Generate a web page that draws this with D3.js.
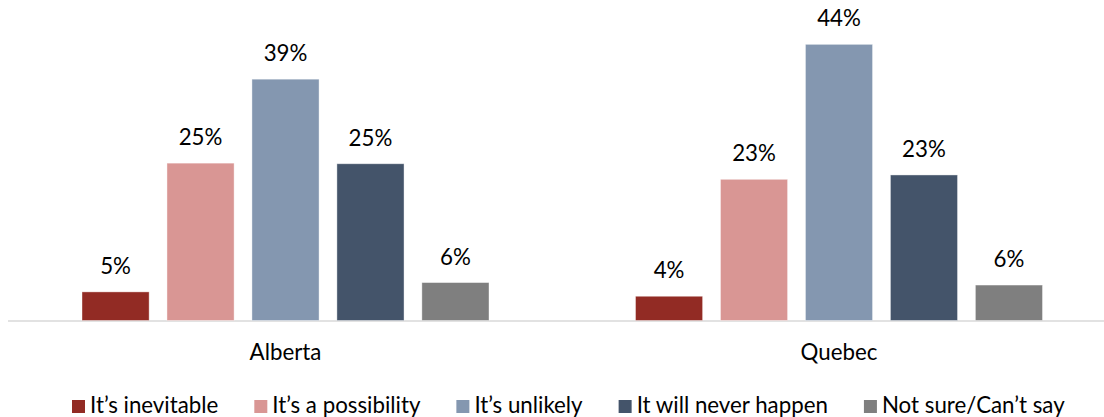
<!DOCTYPE html>
<html>
<head>
<meta charset="utf-8">
<script src="https://cdn.jsdelivr.net/npm/d3@7"></script>
<style>
  body { margin: 0; background: #fff; }
  text { font-family: Lato, "Open Sans", sans-serif; fill: #000; }
</style>
</head>
<body>
<div id="chart"></div>
<script>
// data
const regions = ["Alberta", "Quebec"];
const answers = ["It\u2019s inevitable", "It\u2019s a possibility", "It\u2019s unlikely", "It will never happen", "Not sure/Can\u2019t say"];
const colors = ["#922b24", "#d99694", "#8497b0", "#44546a", "#7f7f7f"];
const alberta = [4.6, 25.3, 38.8, 25.2, 6.1];
const quebec = [3.9, 22.7, 44.4, 23.4, 5.7];

const width = 1104, height = 417;
const baseY = 320.5;
const fontSize = "22.3px";

let svg = d3.select("#chart")
    .append("svg")
    .attr("width", width)
    .attr("height", height);

// scales
let x0 = d3.scaleBand()
    .domain(regions)
    .range([8, 1115])
    .padding(0);

let x1 = d3.scaleBand()
    .domain(answers)
    .range([74, 481])
    .paddingInner(0.21)
    .paddingOuter(0);

let y = d3.scaleLinear()
    .domain([0, 50])
    .range([baseY, 9.5]);

let rows = regions.map((r, i) => ({
    region: r,
    values: answers.map((a, j) => ({ answer: a, value: [alberta, quebec][i][j], color: colors[j] }))
}));

// baseline
svg.append("line")
    .attr("x1", 8)
    .attr("x2", width)
    .attr("y1", baseY + 0.5)
    .attr("y2", baseY + 0.5)
    .attr("stroke", "#d9d9d9")
    .attr("stroke-width", 1.5);

let groups = svg.selectAll("g.group")
    .data(rows)
    .enter()
    .append("g")
    .attr("class", "group")
    .attr("transform", d => "translate(" + x0(d.region) + ",0)");

groups.selectAll("rect")
    .data(d => d.values)
    .enter()
    .append("rect")
    .attr("x", d => x1(d.answer))
    .attr("width", x1.bandwidth())
    .attr("y", d => y(d.value))
    .attr("height", d => baseY - y(d.value))
    .attr("fill", d => d.color)
    .attr("stroke", "rgba(255,255,255,0.5)")
    .attr("stroke-width", 0.8);

groups.selectAll("text.val")
    .data(d => d.values)
    .enter()
    .append("text")
    .attr("class", "val")
    .attr("x", d => x1(d.answer) + x1.bandwidth() / 2)
    .attr("y", d => y(d.value) - 18)
    .attr("text-anchor", "middle")
    .style("font-size", fontSize)
    .text(d => d3.format(".0f")(d.value) + "%");

// category labels
groups.append("text")
    .attr("x", x1.range()[0] + (x1.range()[1] - x1.range()[0]) / 2)
    .attr("y", 360)
    .attr("text-anchor", "middle")
    .style("font-size", fontSize)
    .text(d => d.region);

// legend
let legend = svg.append("g").attr("class", "legend");
let lx = 72;
answers.forEach((a, i) => {
    let item = legend.append("g").attr("transform", "translate(" + lx + ",0)");
    item.append("rect")
        .attr("x", 0)
        .attr("y", 400)
        .attr("width", 13)
        .attr("height", 13)
        .attr("fill", colors[i]);
    let t = item.append("text")
        .attr("x", 18)
        .attr("y", 413)
        .style("font-size", fontSize)
        .text(a);
    lx += 18 + t.node().getComputedTextLength() + 36;
});
</script>
</body>
</html>
